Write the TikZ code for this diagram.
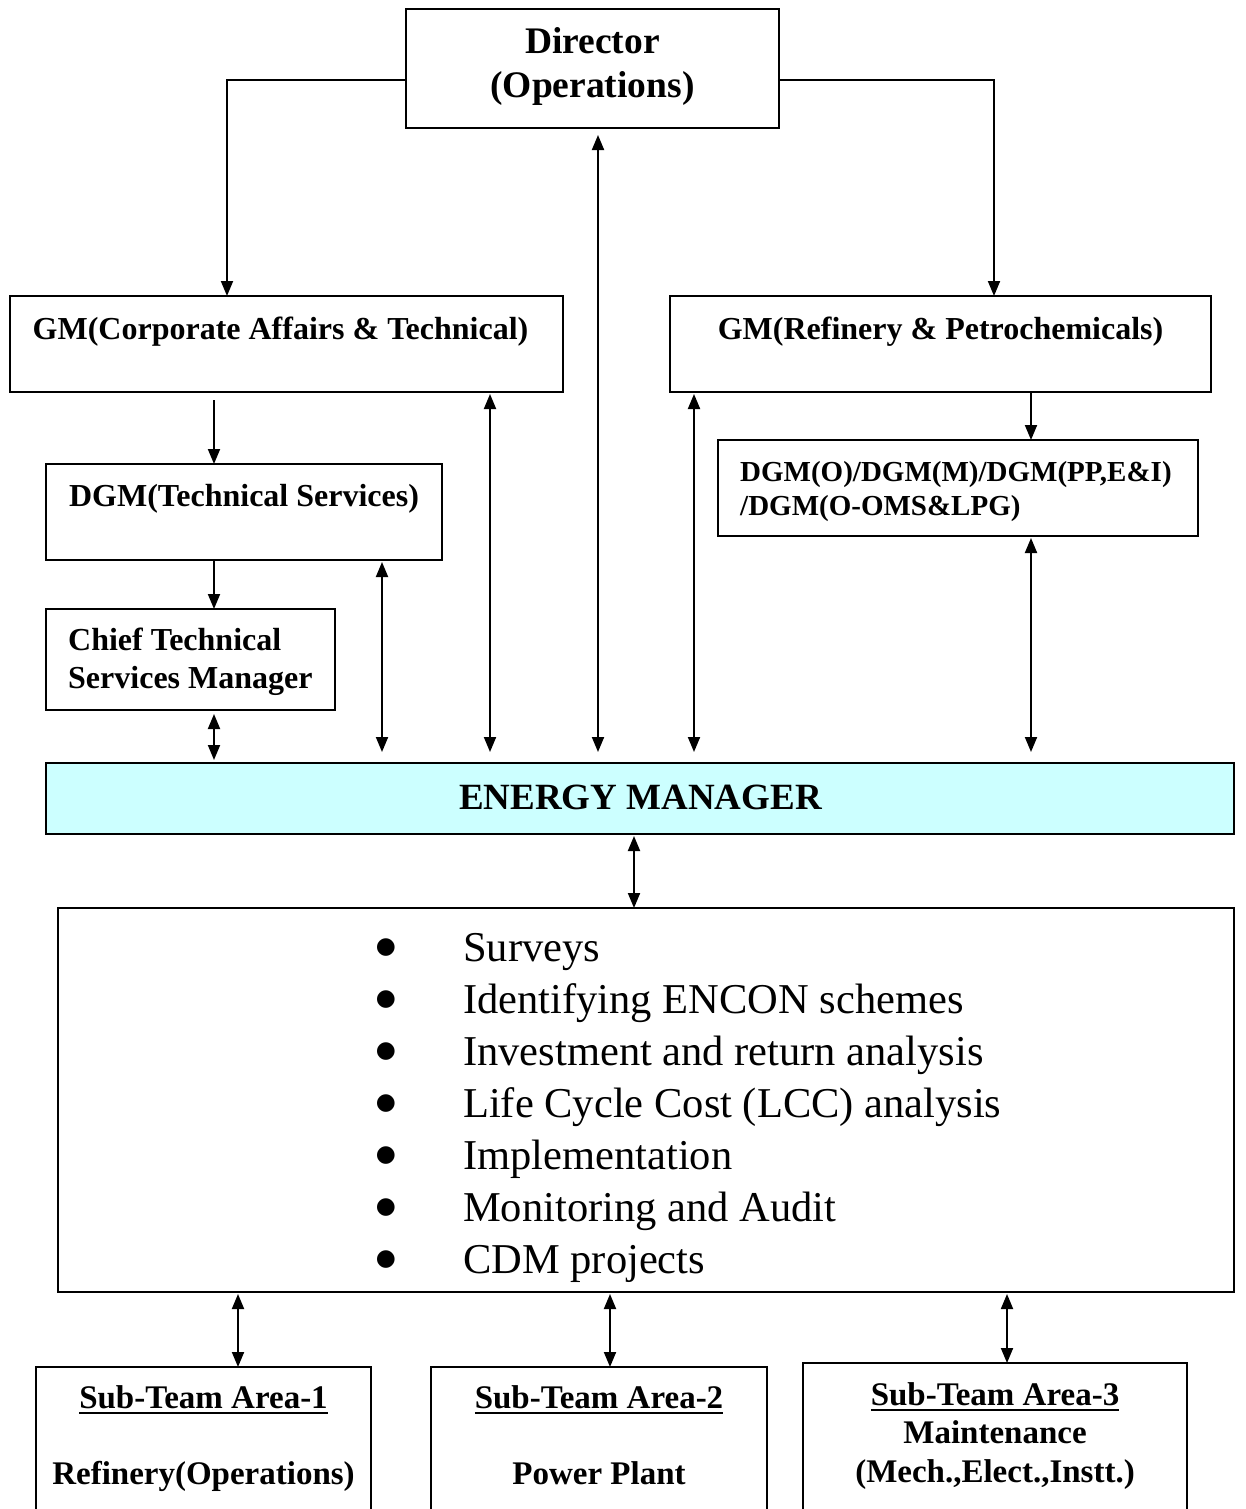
\documentclass[tikz,border=0pt]{standalone}
\usepackage{fontspec}
\setmainfont{Liberation Serif}
\newfontfamily\symfont{DejaVu Sans}
\usetikzlibrary{arrows.meta}
\definecolor{emfill}{HTML}{CCFFFF}
\newcommand{\ulbox}[1]{\setbox0=\hbox{#1}\rlap{\rule[-6pt]{\wd0}{2.5pt}}\box0}
\begin{document}
\begin{tikzpicture}[x=1pt,y=-1pt,
  box/.style={draw, line width=1.6pt, inner sep=0pt, outer sep=0pt},
  arr/.style={line width=1.9pt, -{Triangle[length=15pt,width=12pt]}},
  darr/.style={line width=1.9pt, {Triangle[length=15pt,width=12pt]}-{Triangle[length=15pt,width=12pt]}},
  lbl/.style={font=\fontsize{32}{38}\selectfont\bfseries, anchor=base, inner sep=0pt},
  lbll/.style={lbl, anchor=base west},
  item/.style={font=\fontsize{42.5}{50}\selectfont, anchor=base west, inner sep=0pt},
  bul/.style={font=\symfont\fontsize{23}{26}\selectfont, anchor=base, inner sep=0pt},
  sub/.style={font=\fontsize{33}{38}\selectfont\bfseries, anchor=base, inner sep=0pt},
]
\useasboundingbox (0,0) rectangle (1245,1509);
\fill[white] (0,0) rectangle (1245,1509);

% boxes
\node[box, minimum width=373pt, minimum height=119pt] (dir) at (592.5,68.5) {};
\node[box, minimum width=553pt, minimum height=96pt] (gmca) at (286.5,344) {};
\node[box, minimum width=541pt, minimum height=96pt] (gmrp) at (940.5,344) {};
\node[box, minimum width=396pt, minimum height=96pt] (dgmts) at (244,512) {};
\node[box, minimum width=289pt, minimum height=101pt] (ctsm) at (190.5,659.5) {};
\node[box, minimum width=480pt, minimum height=96pt] (dgmo) at (958,488) {};
\node[box, fill=emfill, minimum width=1188pt, minimum height=71pt] (em) at (640,798.5) {};
\node[box, minimum width=1176pt, minimum height=384pt] (list) at (646,1100) {};
\node[inner sep=0pt, outer sep=0pt, minimum width=335pt, minimum height=142pt] (s1) at (203.5,1438) {};
\node[inner sep=0pt, outer sep=0pt, minimum width=336pt, minimum height=142pt] (s2) at (599,1438) {};
\node[inner sep=0pt, outer sep=0pt, minimum width=384pt, minimum height=146pt] (s3) at (995,1436) {};
\foreach \s in {s1,s2,s3}
  \draw[line width=1.6pt] (\s.south west) -- (\s.north west) -- (\s.north east) -- (\s.south east);

% texts
\node[lbl, font=\fontsize{37.5}{44}\selectfont\bfseries] (dirA) at (592.5,54) {Director};
\node[lbl, font=\fontsize{37.5}{44}\selectfont\bfseries] (dirB) at (592.5,98) {(Operations)};
\node[lbl] (gmcaT) at (280.5,339) {GM(Corporate Affairs \& Technical)};
\node[lbl] (gmrpT) at (940.5,339) {GM(Refinery \& Petrochemicals)};
\node[lbl] (dgmtsT) at (244,506) {DGM(Technical Services)};
\node[lbll] (ctsmA) at (68,650) {Chief Technical};
\node[lbll] (ctsmB) at (68,688) {Services Manager};
\node[lbll, font=\fontsize{29}{34}\selectfont\bfseries] (dgmoA) at (740,481) {DGM(O)/DGM(M)/DGM(PP,E\&I)};
\node[lbll, font=\fontsize{29}{34}\selectfont\bfseries] (dgmoB) at (740,515) {/DGM(O-OMS\&LPG)};
\node[lbl, font=\fontsize{37}{44}\selectfont\bfseries] (emT) at (640.5,809) {ENERGY MANAGER};

\foreach \t [count=\i] in {Surveys, Identifying ENCON schemes, Investment and return analysis, Life Cycle Cost (LCC) analysis, Implementation, Monitoring and Audit, CDM projects} {
  \node[bul] (b\i) at (386, 953+52*\i-52) {●};
  \node[item] (it\i) at (463, 961+52*\i-52) {\t};
}

\node[sub] (s1A) at (203.5,1408) {\ulbox{Sub-Team Area-1}};
\node[sub] (s1B) at (203.5,1484) {Refinery(Operations)};
\node[sub] (s2A) at (599,1408) {\ulbox{Sub-Team Area-2}};
\node[sub] (s2B) at (599,1484) {Power Plant};
\node[sub] (s3A) at (995,1405) {\ulbox{Sub-Team Area-3}};
\node[sub] (s3B) at (995,1443) {Maintenance};
\node[sub] (s3C) at (995,1482) {(Mech.,Elect.,Instt.)};

% connectors
\draw[arr] (dir.west |- 0,80) -| (gmca.north -| 227,0);
\draw[arr] (dir.east |- 0,80) -| (gmrp.north -| 994,0);
\draw[darr, shorten <=7pt, shorten >=11pt] (dir.south -| 598,0) -- (em.north -| 598,0);
\draw[arr, shorten <=8pt] (gmca.south -| 214,0) -- (dgmts.north -| 214,0);
\draw[arr] (dgmts.south -| 214,0) -- (ctsm.north -| 214,0);
\draw[darr, shorten <=4pt, shorten >=3pt] (ctsm.south -| 214,0) -- (em.north -| 214,0);
\draw[darr, shorten <=2pt, shorten >=11pt] (dgmts.south -| 382,0) -- (em.north -| 382,0);
\draw[darr, shorten <=2pt, shorten >=11pt] (gmca.south -| 490,0) -- (em.north -| 490,0);
\draw[darr, shorten <=2pt, shorten >=11pt] (gmrp.south -| 694,0) -- (em.north -| 694,0);
\draw[arr] (gmrp.south -| 1031,0) -- (dgmo.north -| 1031,0);
\draw[darr, shorten <=2pt, shorten >=11pt] (dgmo.south -| 1031,0) -- (em.north -| 1031,0);
\draw[darr, shorten <=2pt] (em.south -| 634,0) -- (list.north -| 634,0);
\draw[darr, shorten <=2pt] (list.south -| 238,0) -- (s1.north -| 238,0);
\draw[darr, shorten <=2pt] (list.south -| 610,0) -- (s2.north -| 610,0);
\draw[darr, shorten <=2pt] (list.south -| 1007,0) -- (s3.north -| 1007,0);
\end{tikzpicture}
\end{document}
